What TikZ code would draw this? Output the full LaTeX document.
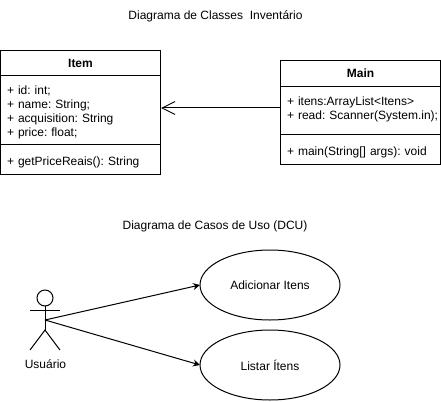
\documentclass[tikz,border=0pt]{standalone}
\usepackage{fontspec}
\setmainfont{Liberation Sans}
\frenchspacing
\usetikzlibrary{positioning,shapes.geometric,arrows.meta}
\newcommand{\rowpad}{\rule{0pt}{13.5pt}}
\tikzset{
  line/.style={line width=1pt},
  classtitle/.style={draw,line,outer sep=0pt,minimum width=160pt,inner sep=0pt,font=\fontsize{12}{14}\selectfont\bfseries},
  classrow/.style={draw,line,outer sep=0pt,text width=147pt,inner xsep=6.5pt,inner ysep=0pt,align=left,font=\fontsize{12}{14.2}\selectfont},
  usecase/.style={draw,line,outer sep=0pt,ellipse,minimum width=140pt,minimum height=70pt,inner sep=0pt,font=\fontsize{12}{14}\selectfont},
  caption/.style={font=\fontsize{12}{14}\selectfont},
}
\begin{document}
\begin{tikzpicture}[x=1pt,y=-1pt]
  \useasboundingbox (0,0) rectangle (441,401);
  %Titles
  \node[caption] (ClassTitle) at (215.5,16.5) {Diagrama de Classes\ \ Inventário};
  \node[caption] (UseTitle) at (215,226.5) {Diagrama de Casos de Uso (DCU)};

  %Item
  \node[classtitle,minimum height=25.5pt,anchor=north west] (Item) at (0.5,50.5) {Item};
  \node[classrow,minimum height=68pt,below=0pt of Item] (ItemAttrs)
  {\rowpad+ id: int;\\+ name: String;\\+ acquisition: String\\+ price: float;};
  \node[classrow,minimum height=30pt,below=0pt of ItemAttrs] (ItemOps)
  {\rule{0pt}{15pt}\mbox{+ getPriceReais(): String}};

  %Main
  \node[classtitle,minimum height=26pt,anchor=north west] (Main) at (280.5,60.5) {Main};
  \node[classrow,minimum height=47.5pt,below=0pt of Main] (MainAttrs)
  {\rowpad+ itens:ArrayList<Itens>\\\mbox{+ read: Scanner(System.in);}\\[-6pt]\mbox{}};
  \node[classrow,minimum height=30pt,below=0pt of MainAttrs] (MainOps)
  {\rule{0pt}{15pt}\mbox{+ main(String[] args): void}};

  \coordinate (MainEnd) at (280.5,108);
  \coordinate (ItemEnd) at (161,108);
  \draw[line,-{Straight Barb[length=13pt,width=13pt]}] (MainEnd) -- (ItemEnd);

  %Use cases
  \node[usecase] (Adicionar) at (270,285) {Adicionar Itens};
  \node[usecase] (Listar) at (270,365) {Listar Ítens};

  %Actor
  \node[draw,line,outer sep=0pt,circle,minimum size=16pt,inner sep=0pt] (Head) at (45,298) {};
  \coordinate (Waist) at (45,320);
  \coordinate (Hip) at (45,330);
  \draw[line] (Head.south) -- (Hip);
  \draw[line] (30,310) -- (60,310);
  \draw[line] (30,350) -- (Hip) -- (60,350);
  \node[caption] (Usuario) at (45.5,364.5) {Usuário};

  \draw[line,-{Stealth[length=7pt,width=7pt]}] (Waist) -- (Adicionar.west);
  \draw[line,-{Stealth[length=7pt,width=7pt]}] (Waist) -- (Listar.west);
\end{tikzpicture}
\end{document}
